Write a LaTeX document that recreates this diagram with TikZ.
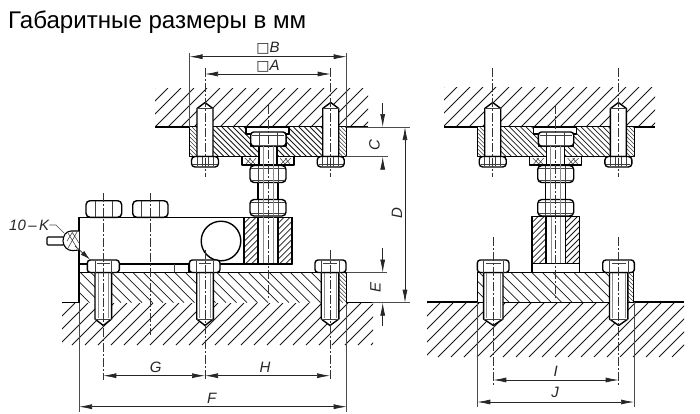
\documentclass[tikz,border=0pt]{standalone}
\usepackage{fontspec}
\setmainfont{Liberation Sans}
\newfontfamily\dejavu{DejaVu Sans}
\usetikzlibrary{arrows.meta}
\tikzset{
  thick line/.style={line width=1.4pt,black,line join=round},
  thin line/.style={line width=.55pt,black!75},
  faint line/.style={line width=.5pt,black!45},
  hatch line/.style={line width=.75pt,black!90},
  fine hatch/.style={hatch line/.style={line width=.5pt,black!75}},
  axis line/.style={line width=.55pt,black!80,dash pattern=on 9pt off 2pt on 2pt off 2pt},
  dim/.style={line width=.7pt,black!85,{Latex[length=13pt,width=5pt]}-{Latex[length=13pt,width=5pt]}},
  dimin/.style={line width=.7pt,black!85,-{Latex[length=13pt,width=5pt]}},
  ext/.style={line width=.6pt,black!70},
  lbl/.style={font=\fontsize{15}{16}\selectfont\itshape,inner sep=0pt,black!85},
  solid white/.style={fill=white,draw=black,line width=1.4pt,line join=round}
}
% hatches: x1 y1 x2 y2 spacing
\newcommand{\hatchup}[5]{\begin{scope}
  \clip (#1,#2) rectangle (#3,#4);
  \pgfmathsetmacro{\hh}{#4-#2}\pgfmathsetmacro{\st}{#1-\hh}\pgfmathsetmacro{\nx}{\st+#5}
  \foreach \c in {\st,\nx,...,#3} \draw[hatch line] (\c,#4) -- ++(\hh,-\hh);
\end{scope}}
\newcommand{\hatchdn}[5]{\begin{scope}
  \clip (#1,#2) rectangle (#3,#4);
  \pgfmathsetmacro{\hh}{#4-#2}\pgfmathsetmacro{\st}{#1-\hh}\pgfmathsetmacro{\nx}{\st+#5}
  \foreach \c in {\st,\nx,...,#3} \draw[hatch line] (\c,#2) -- ++(\hh,\hh);
\end{scope}}
% upper bolt: centre x
\newcommand{\upbolt}[1]{
  \filldraw[solid white] ({#1-8},156.5) -- ({#1-8},108.5) -- ({#1},102.5) -- ({#1+8},108.5) -- ({#1+8},156.5) -- cycle;
  \draw[thin line] ({#1-8},108.5) -- ({#1+8},108.5);
  \filldraw[solid white,rounded corners=3.5pt] ({#1-13.5},156.5) -- ({#1-13.5},167) -- ({#1+13.5},167) -- ({#1+13.5},156.5) -- cycle;
  \draw[thin line] ({#1-8},156.5) -- ({#1-8},166) ({#1+8},156.5) -- ({#1+8},166) ({#1-3},156.5) -- ({#1-3},166) ({#1+3},156.5) -- ({#1+3},166);
  \draw[thin line] ({#1-12},164) -- ({#1+12},164);
  \draw[axis line] (#1,68) -- (#1,177);
}
% lower bolt: centre x, half shank, head x1, head x2
\newcommand{\lowbolt}[4]{
  \filldraw[solid white] ({#1-#2},272.5) -- ({#1-#2},319) -- (#1,325.5) -- ({#1+#2},319) -- ({#1+#2},272.5) -- cycle;
  \draw[thin line] ({#1-#2},319) -- ({#1+#2},319);
  \draw[faint line] ({#1-#2+3},272.5) -- ({#1-#2+3},318) ({#1+#2-3},272.5) -- ({#1+#2-3},318);
  \filldraw[solid white,rounded corners=3pt] (#3,272.5) -- (#3,260) -- (#4,260) -- (#4,272.5) -- cycle;
  \draw[thin line] ({#1-#2},261) -- ({#1-#2},272.5) ({#1+#2},261) -- ({#1+#2},272.5) ({#1-#2+2},263) -- ({#1+#2-2},263);
}
% upper assembly (block, plate, studs, nuts)
\newcommand{\topasm}{
  \fill[white] (189.5,127) rectangle (346.7,156.5);
  \hatchdn{213}{127}{323}{156.5}{5.5}
  \begin{scope}[fine hatch]
  \hatchdn{189.5}{127}{197}{156.5}{4}
  \hatchdn{338.7}{127}{346.7}{156.5}{4}
  \end{scope}
  \filldraw[solid white] (246,127) -- (246,134) -- (250.7,134) -- (250.7,146) -- (259,146) -- (259,156.5) -- (277,156.5) -- (277,146) -- (286,146) -- (286,134) -- (289,134) -- (289,127) -- cycle;
  \draw[thick line] (189.5,127) -- (189.5,156.5) -- (346.7,156.5) -- (346.7,127);
  \upbolt{205}\upbolt{330.7}
  % stepped collar
  \filldraw[solid white] (242,156.5) -- (242,165) -- (294,165) -- (294,156.5);
  \draw[thin line] (245,158) -- (251,164) (249,158) -- (255,164) (251,158) -- (246,164) (256,158) -- (251,164);
  \draw[thin line] (291,158) -- (285,164) (287,158) -- (281,164) (285,158) -- (290,164) (280,158) -- (285,164);
  % bolt in recess
  \filldraw[solid white] (259,146) rectangle (277,165);
  \filldraw[solid white,rounded corners=3pt] (250.7,146) -- (250.7,132) -- (286,132) -- (286,146) -- cycle;
  \draw[thin line] (259,132) -- (259,146) (277,132) -- (277,146) (252,135) -- (284,135);
  % nuts and stud
  \filldraw[solid white] (258,180) rectangle (278,201);
  \filldraw[solid white,rounded corners=4pt] (250,165.5) -- (250,182.5) -- (286,182.5) -- (286,165.5) -- cycle;
  \filldraw[solid white,rounded corners=4pt] (250,216) -- (250,199.5) -- (286,199.5) -- (286,216) -- cycle;
  \draw[thin line] (258,165.5) -- (258,182.5) (278,165.5) -- (278,182.5) (258,199.5) -- (258,215.5) (278,199.5) -- (278,215.5);
  \draw[thin line] (251,168) -- (285,168) (251,213) -- (285,213) (251,202) -- (285,202) (251,180) -- (285,180);
  \draw[faint line] (263,146) -- (263,215) (273,146) -- (273,215);
}
\begin{document}
\begin{tikzpicture}[x=1pt,y=-1pt]
\useasboundingbox (0,0) rectangle (700,413);
\fill[white] (0,0) rectangle (700,413);
\node[anchor=base west,inner sep=0pt,font=\fontsize{24.1}{26}\selectfont] (title) at (8,28) {Габаритные размеры в мм};

%%% hatched building parts
\hatchup{155}{88}{368}{127}{13}
\hatchup{444}{87}{655}{127}{13}
\hatchup{62}{303}{373}{345}{13}
\hatchup{427}{303}{684}{357}{13}
\draw[thick line] (155,127) -- (368,127) (444,127) -- (655,127);
\draw[thick line] (62,302.7) -- (372,302.7) (427,302) -- (684,302);

%%% left view
\begin{scope}\topasm\end{scope}
% load cell body
\filldraw[solid white] (79,217.3) rectangle (292,264);
\filldraw[solid white] (79,264) rectangle (189,272.5);
\draw[thin line] (174,264) -- (174,272);
\draw[solid white] (221,241) circle (19.8);
% block with hole
\fill[white] (244,217.3) rectangle (292,264);
\hatchup{244}{217.3}{258}{264}{6}
\hatchup{278}{217.3}{292}{264}{6}
\draw[thick line] (244,217.3) rectangle (292,264);
\draw[thick line] (258,217.3) -- (258,264) (278,217.3) -- (278,264);
\draw[faint line] (263,217) -- (263,263) (273,217) -- (273,263);
% cell bolts
\filldraw[solid white,rounded corners=4pt] (86,217.3) -- (86,200.7) -- (121.7,200.7) -- (121.7,217.3) -- cycle;
\filldraw[solid white,rounded corners=4pt] (132.7,217.3) -- (132.7,200.7) -- (168,200.7) -- (168,217.3) -- cycle;
\draw[thin line] (95,201) -- (95,217) (112,201) -- (112,217) (141,201) -- (141,217) (159,201) -- (159,217);
% connector gland
\filldraw[solid white,line width=1.1pt,rounded corners=1pt] (47,237) -- (64,237) -- (64,245) -- (47,245) -- cycle;
\filldraw[solid white,line width=1.1pt,rounded corners=4pt] (79,231) -- (67,231) -- (63,237) -- (63,245) -- (69,251) -- (79,250);
\draw[thin line] (68,233) -- (77,248) (72,232) -- (79,243) (77,232) -- (68,248) (67,241) -- (72,233);
% base plate
\fill[white] (79,272.5) rectangle (346.7,302.7);
\hatchdn{79}{272.5}{339}{302.7}{10.5}
\begin{scope}[fine hatch]\hatchdn{339}{272.5}{346.7}{302.7}{4}\end{scope}
\draw[thick line] (79,302.7) -- (79,272.5) -- (346.7,272.5) -- (346.7,302.7);
\lowbolt{103.3}{8.3}{87.3}{119.3}
\lowbolt{205}{8.3}{189.3}{220}
\lowbolt{330}{8.8}{315}{346}
% axes
\draw[axis line] (268,105) -- (268,300);
\draw[axis line] (103.3,193) -- (103.3,380);
\draw[axis line] (150,193) -- (150,335);
\draw[axis line] (205,250) -- (205,380);
\draw[axis line] (330,250) -- (330,380);

%%% right view
\begin{scope}[xshift=287.7pt]\topasm\end{scope}
\fill[white] (532,216.7) rectangle (579.3,263.5);
\hatchup{532}{216.7}{546}{263.5}{6}
\hatchup{565.3}{216.7}{579.3}{263.5}{6}
\draw[thick line] (532,216.7) rectangle (579.3,263.5);
\draw[thick line] (546,216.7) -- (546,263.5) (565.3,216.7) -- (565.3,263.5);
\draw[faint line] (551,217) -- (551,263) (560.5,217) -- (560.5,263);
\filldraw[solid white] (532,263.5) rectangle (579.3,272.7);
\fill[white] (477.3,272.7) rectangle (633.3,302);
\hatchdn{477.3}{272.7}{626}{302}{10.5}
\begin{scope}[fine hatch]\hatchdn{626}{272.7}{633.3}{302}{4}\end{scope}
\draw[thick line] (477.3,302) -- (477.3,272.7) -- (633.3,272.7) -- (633.3,302);
\lowbolt{493.3}{9.7}{477.3}{509}
\lowbolt{618.7}{9.2}{602.7}{634.3}
\draw[axis line] (555.7,105) -- (555.7,300);
\draw[axis line] (493.3,237) -- (493.3,385);
\draw[axis line] (618.7,237) -- (618.7,385);

%%% dimensions, left view
\draw[ext] (189.5,53) -- (189.5,127) (346.7,53) -- (346.7,127);
\draw[dim] (189.5,56.7) -- (346.7,56.7);
\draw[dim] (205,74) -- (330.7,74);
\node[lbl] (lb) at (268,48) {{\dejavu\upshape\fontsize{14}{14}\selectfont □}B};
\node[lbl] (la) at (268,66) {{\dejavu\upshape\fontsize{14}{14}\selectfont □}A};
\draw[ext] (347,127) -- (410,127) (346,156.7) -- (388,156.7);
\draw[dimin] (382.7,102.7) -- (382.7,127);
\draw[dimin] (382.7,168) -- (382.7,156.7);
\node[lbl,rotate=90] (lc) at (374.5,145) {C};
\draw[dim] (405,127) -- (405,302.7);
\node[lbl,rotate=90] (ld) at (397,213) {D};
\draw[ext] (347,272.5) -- (387,272.5) (372,302.7) -- (410,302.7);
\draw[dimin] (382.7,248) -- (382.7,272.5);
\draw[dimin] (382.7,326) -- (382.7,302.7);
\node[lbl,rotate=90] (le) at (375.5,287) {E};
\draw[dim] (103.3,375.7) -- (205,375.7);
\draw[dim] (205,375.7) -- (330,375.7);
\node[lbl] (lg) at (155.7,367) {G};
\node[lbl] (lh) at (265,367) {H};
\draw[ext] (79,302.7) -- (79,412) (346.7,302.7) -- (346.7,412);
\draw[dim] (79,406.7) -- (346.7,406.7);
\node[lbl] (lf) at (211.7,398) {F};
\node[lbl,anchor=west] (lk) at (9,225) {10\,–\,K};
\coordinate (kbend) at (56,225);
\coordinate (kend) at (64,233);
\draw[ext] (lk.east) -- (kbend) -- (kend);
\coordinate (aa) at (75,246);
\coordinate (ab) at (90,259.5);
\draw[line width=.7pt,black!85,-{Latex[length=10pt,width=5pt]}] (aa) -- (ab);

%%% dimensions, right view
\draw[ext] (477.3,302) -- (477.3,407) (634,302) -- (634,407);
\draw[dim] (493.3,380) -- (618.7,380);
\draw[dim] (477.3,402) -- (634,402);
\node[lbl] (li) at (555.7,371) {I};
\node[lbl] (lj) at (555,392.7) {J};
\end{tikzpicture}
\end{document}
